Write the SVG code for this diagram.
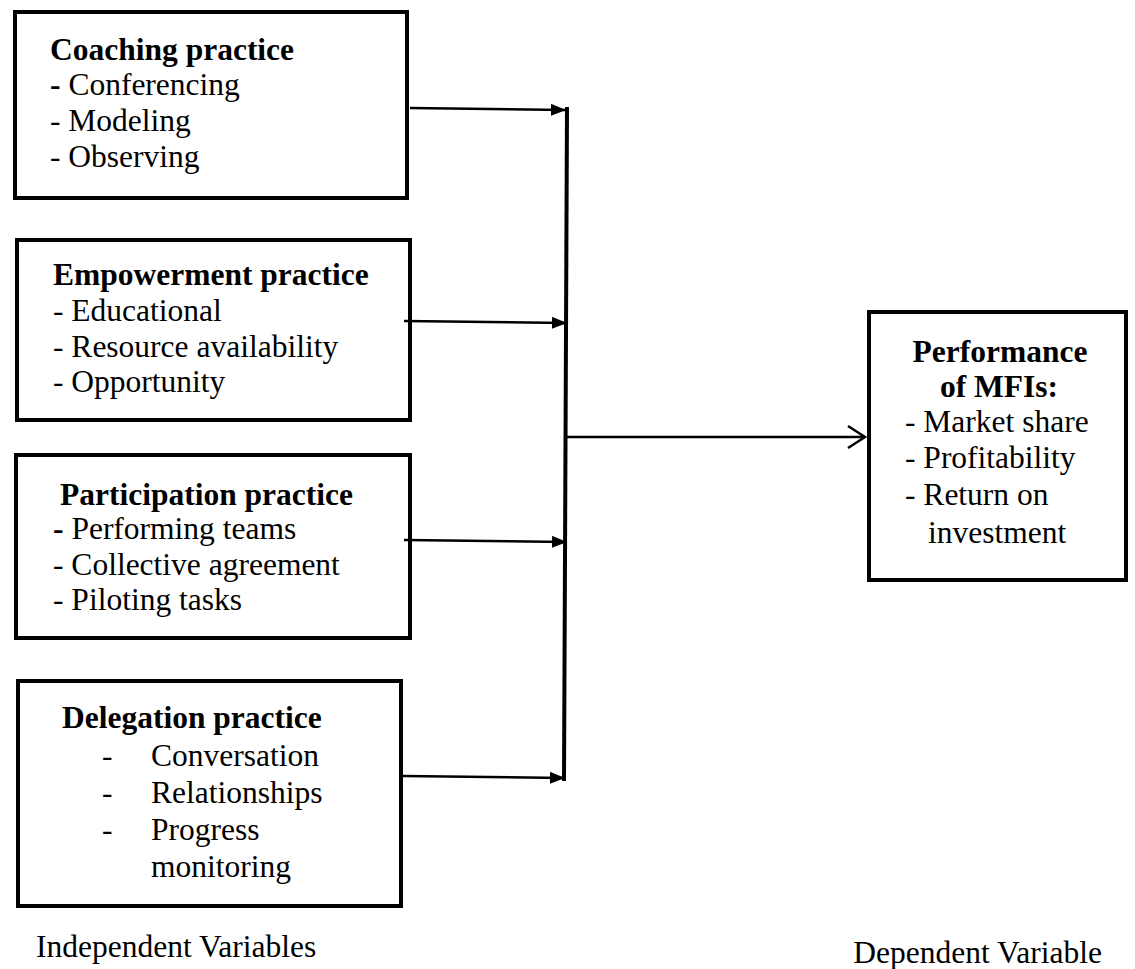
<svg xmlns="http://www.w3.org/2000/svg" width="1135" height="969" viewBox="0 0 1135 969">
<style>
  .box { fill: #ffffff; stroke: #000000; stroke-width: 4; }
  text { font-family: "Liberation Serif", "Times New Roman", serif; font-size: 31.5px; fill: #000000; }
  .b { font-weight: bold; }
  .mid { text-anchor: middle; }
  .wire { stroke: #000000; stroke-width: 2.5; fill: none; }
  .bus { stroke: #000000; stroke-width: 4; fill: none; }
</style>
<defs>
  <marker id="tri" markerUnits="userSpaceOnUse" markerWidth="16" markerHeight="12" refX="15" refY="6" orient="auto">
    <path d="M0,0 L15,6 L0,12 Z" fill="#000000"/>
  </marker>
</defs>
<rect width="1135" height="969" fill="#ffffff"/>

<g id="coaching">
  <rect class="box" x="15" y="12" width="392" height="186"/>
  <text class="b" x="50" y="60">Coaching practice</text>
  <text x="50" y="95"><tspan class="b">-</tspan> Conferencing</text>
  <text x="50" y="131">- Modeling</text>
  <text x="50" y="167">- Observing</text>
</g>

<g id="empowerment">
  <rect class="box" x="17" y="240" width="393" height="180"/>
  <text class="b" x="53" y="285">Empowerment practice</text>
  <text x="53" y="321">- Educational</text>
  <text x="53" y="357">- Resource availability</text>
  <text x="53" y="392">- Opportunity</text>
</g>

<g id="participation">
  <rect class="box" x="16" y="455" width="394" height="183"/>
  <text class="b" x="60" y="505">Participation practice</text>
  <text x="53" y="539"><tspan class="b">-</tspan> Performing teams</text>
  <text x="53" y="575">- Collective agreement</text>
  <text x="53" y="610">- Piloting tasks</text>
</g>

<g id="delegation">
  <rect class="box" x="18" y="681" width="383" height="225"/>
  <text class="b" x="62" y="728">Delegation practice</text>
  <text x="102" y="766">-</text>
  <text x="151" y="766">Conversation</text>
  <text x="102" y="803">-</text>
  <text x="151" y="803">Relationships</text>
  <text x="102" y="840">-</text>
  <text x="151" y="840">Progress</text>
  <text x="151" y="877">monitoring</text>
</g>

<g id="performance">
  <rect class="box" x="869" y="312" width="257" height="268"/>
  <text class="b mid" x="1000" y="362">Performance</text>
  <text class="b mid" x="999" y="397">of MFIs:</text>
  <text x="905" y="432">- Market share</text>
  <text x="905" y="468">- Profitability</text>
  <text x="905" y="505">- Return on</text>
  <text x="928" y="543">investment</text>
</g>

<g id="connectors">
  <line class="bus" x1="567" y1="107" x2="564" y2="781"/>
  <line class="wire" x1="410" y1="108" x2="566" y2="110" marker-end="url(#tri)"/>
  <line class="wire" x1="404" y1="321" x2="567" y2="323" marker-end="url(#tri)"/>
  <line class="wire" x1="404" y1="540" x2="567" y2="542" marker-end="url(#tri)"/>
  <line class="wire" x1="403" y1="776" x2="565" y2="778" marker-end="url(#tri)"/>
  <line class="wire" x1="565" y1="437" x2="865" y2="437"/>
  <polyline class="wire" points="848,426 865,437 848,448"/>
</g>

<g id="labels">
  <text x="36" y="957">Independent Variables</text>
  <text x="1102" y="963" text-anchor="end">Dependent Variable</text>
</g>
</svg>
